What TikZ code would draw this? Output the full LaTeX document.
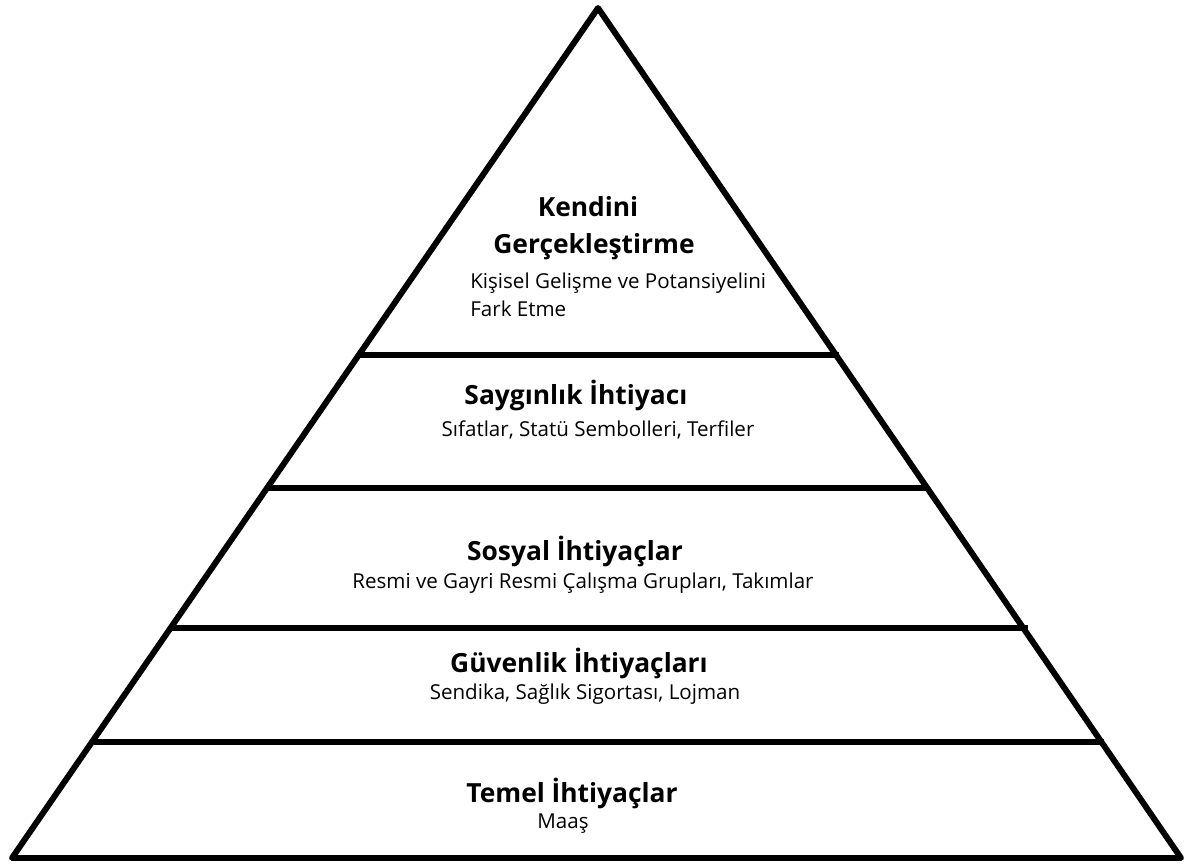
\documentclass[tikz,border=0pt]{standalone}
\usepackage{fontspec}
\setmainfont{Open Sans}
\tikzset{
  edge/.style={line width=3.4pt, line join=round},
  title/.style={font=\fontsize{15}{18}\selectfont\bfseries, inner sep=0pt},
  sub/.style={font=\fontsize{11.7}{14}\selectfont, inner sep=0pt}
}
\begin{document}
\begin{tikzpicture}
\useasboundingbox (0,0) rectangle (23.8,17.32);
% outline
\coordinate (apex) at (11.96, 17.16);
\coordinate (bl) at (0.24, 0.16);
\coordinate (br) at (23.62, 0.16);
\draw[edge] (apex) -- (bl) -- (br) -- cycle;
% level lines
\coordinate (l1L) at (7.14, 10.22);
\coordinate (l1R) at (16.78, 10.22);
\coordinate (l2L) at (5.30, 7.56);
\coordinate (l2R) at (18.52, 7.56);
\coordinate (l3L) at (3.44, 4.76);
\coordinate (l3R) at (20.56, 4.76);
\coordinate (l4L) at (1.88, 2.48);
\coordinate (l4R) at (22.08, 2.48);
\draw[edge] (l1L) -- (l1R);
\draw[edge] (l2L) -- (l2R);
\draw[edge] (l3L) -- (l3R);
\draw[edge] (l4L) -- (l4R);
% texts
\node[title] (kendini) at (11.76, 13.18) {Kendini};
\node[title] (gercek) at (11.88, 12.38) {Gerçekleştirme};
\node[sub, anchor=west] (kisisel) at (9.40, 11.66) {Kişisel Gelişme ve Potansiyelini};
\node[sub, anchor=west] (fark) at (9.40, 11.14) {Fark Etme};
\node[title] (saygi) at (11.52, 9.42) {Saygınlık İhtiyacı};
\node[sub] (sifat) at (11.96, 8.72) {Sıfatlar, Statü Sembolleri, Terfiler};
\node[title] (sosyal) at (11.50, 6.30) {Sosyal İhtiyaçlar};
\node[sub] (resmi) at (11.66, 5.66) {Resmi ve Gayri Resmi Çalışma Grupları, Takımlar};
\node[title] (guven) at (11.58, 4.06) {Güvenlik İhtiyaçları};
\node[sub] (sendika) at (11.70, 3.44) {Sendika, Sağlık Sigortası, Lojman};
\node[title] (temel) at (11.44, 1.46) {Temel İhtiyaçlar};
\node[sub] (maas) at (11.26, 0.84) {Maaş};
\end{tikzpicture}
\end{document}
